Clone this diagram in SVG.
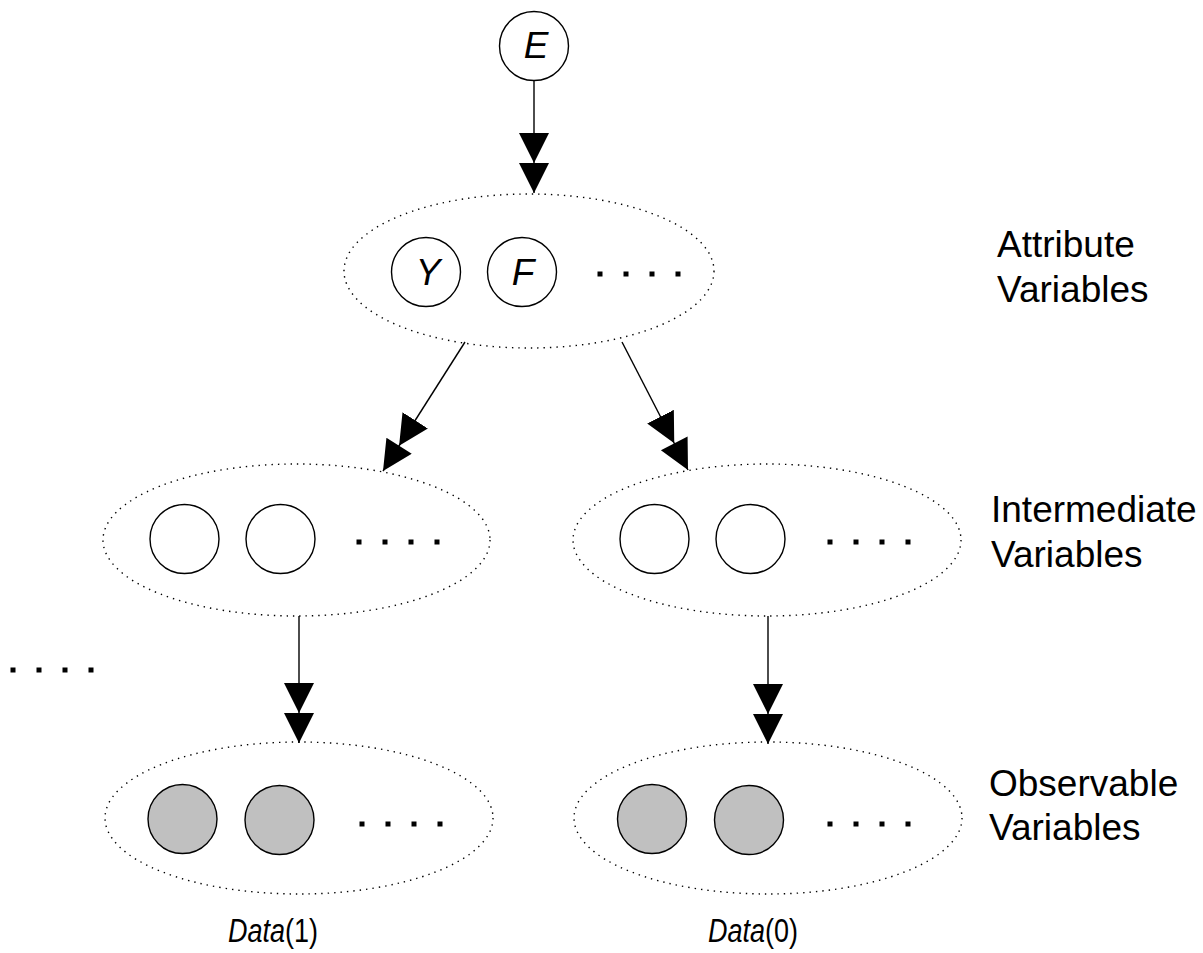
<svg xmlns="http://www.w3.org/2000/svg" width="1203" height="953" viewBox="0 0 1203 953">
  <style>
    .group { fill: none; stroke: #000; stroke-width: 1.4; stroke-dasharray: 1.4 5; }
    .var { fill: #fff; stroke: #000; stroke-width: 1.4; }
    .obs { fill: #c0c0c0; stroke: #000; stroke-width: 1.4; }
    .edge { fill: none; stroke: #000; stroke-width: 1.4; marker-end: url(#dbl); }
    .dot { fill: #000; }
    .lbl { font-family: "Liberation Sans", Arial, sans-serif; font-size: 37px; fill: #000; }
    .sym { font-family: "Liberation Sans", Arial, sans-serif; font-size: 37px; font-style: italic; fill: #000; text-anchor: middle; }
    .cap { font-family: "Liberation Sans", Arial, sans-serif; font-size: 33px; fill: #000; }
    .it { font-style: italic; }
  </style>
  <defs>
    <!-- doubled filled arrowhead, tip at the end of the path -->
    <marker id="dbl" viewBox="0 -15 60 30" refX="60" refY="0" markerWidth="60" markerHeight="30" markerUnits="userSpaceOnUse" orient="auto">
      <path d="M0,-15 L30,0 L0,15 Z M30,-15 L60,0 L30,15 Z" fill="#000"/>
    </marker>
    <g id="dots4">
      <rect class="dot" x="-2.5" y="-2.5" width="5" height="5"/>
      <rect class="dot" x="23.5" y="-2.5" width="5" height="5"/>
      <rect class="dot" x="49.5" y="-2.5" width="5" height="5"/>
      <rect class="dot" x="75.5" y="-2.5" width="5" height="5"/>
    </g>
  </defs>

  <rect width="1203" height="953" fill="#fff"/>

  <!-- connectors -->
  <g id="connectors">
    <path class="edge" d="M534,80 L534,193"/>
    <path class="edge" d="M465,342 L383,471"/>
    <path class="edge" d="M622,342 L688,470"/>
    <path class="edge" d="M299,616 L299,743"/>
    <path class="edge" d="M768,616 L768,744"/>
  </g>

  <!-- root variable -->
  <g id="node-E">
    <circle class="var" cx="534" cy="46" r="34.5"/>
    <text class="sym" x="536" y="58" font-size="34">E</text>
  </g>

  <!-- attribute variables -->
  <g id="attribute-group">
    <ellipse class="group" cx="529" cy="271" rx="185" ry="77"/>
    <circle class="var" cx="426" cy="272" r="34.5"/>
    <text class="sym" x="428" y="285">Y</text>
    <circle class="var" cx="522" cy="272" r="34.5"/>
    <text class="sym" x="523" y="285">F</text>
    <use href="#dots4" x="600" y="274"/>
  </g>

  <!-- intermediate variables, branch 1 -->
  <g id="intermediate-1">
    <ellipse class="group" cx="296.5" cy="540" rx="193.5" ry="76"/>
    <circle class="var" cx="184.5" cy="539" r="34.5"/>
    <circle class="var" cx="280.5" cy="539" r="34.5"/>
    <use href="#dots4" x="359" y="542"/>
  </g>

  <!-- intermediate variables, branch 0 -->
  <g id="intermediate-0">
    <ellipse class="group" cx="767" cy="540" rx="194" ry="76"/>
    <circle class="var" cx="654.5" cy="539" r="34.5"/>
    <circle class="var" cx="750.5" cy="539" r="34.5"/>
    <use href="#dots4" x="830" y="542"/>
  </g>

  <!-- observable variables, branch 1 -->
  <g id="observable-1">
    <ellipse class="group" cx="299" cy="818" rx="194" ry="76"/>
    <circle class="obs" cx="182.5" cy="819" r="34.5"/>
    <circle class="obs" cx="279.5" cy="820" r="34.5"/>
    <use href="#dots4" x="362" y="824"/>
  </g>

  <!-- observable variables, branch 0 -->
  <g id="observable-0">
    <ellipse class="group" cx="768" cy="818" rx="194" ry="76"/>
    <circle class="obs" cx="652" cy="819" r="34.5"/>
    <circle class="obs" cx="749" cy="820" r="34.5"/>
    <use href="#dots4" x="830" y="824"/>
  </g>

  <!-- further branches elided -->
  <g id="more-branches">
    <use href="#dots4" x="13" y="670"/>
  </g>

  <!-- level labels -->
  <g id="labels">
    <text class="lbl" x="997" y="257">Attribute</text>
    <text class="lbl" x="997" y="302">Variables</text>
    <text class="lbl" x="991" y="522">Intermediate</text>
    <text class="lbl" x="991" y="567">Variables</text>
    <text class="lbl" x="989" y="796">Observable</text>
    <text class="lbl" x="989" y="840">Variables</text>
  </g>

  <!-- data set captions -->
  <g id="captions">
    <text class="cap" x="228" y="942" textLength="90" lengthAdjust="spacingAndGlyphs"><tspan class="it">Data</tspan>(1)</text>
    <text class="cap" x="708" y="942" textLength="90" lengthAdjust="spacingAndGlyphs"><tspan class="it">Data</tspan>(0)</text>
  </g>
</svg>
